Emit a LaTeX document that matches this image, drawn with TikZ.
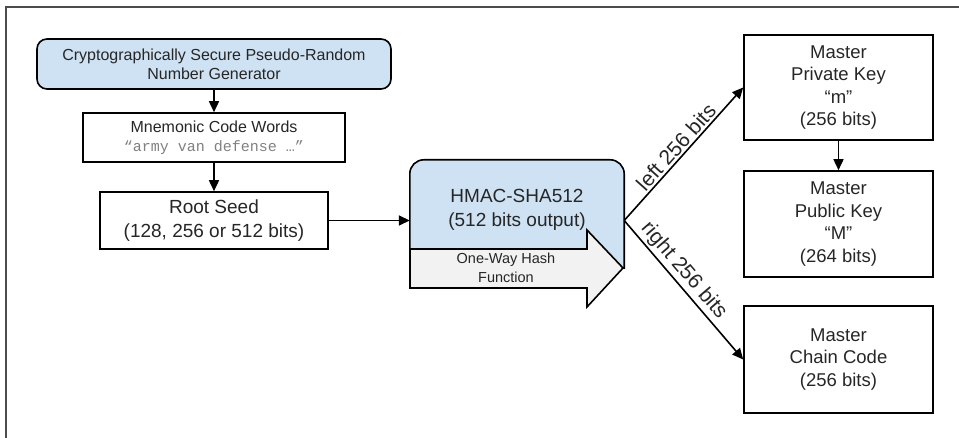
\documentclass[tikz,border=0pt]{standalone}
\usepackage{fontspec}
\setmainfont{Liberation Sans}
\setmonofont{Liberation Mono}
\usetikzlibrary{arrows.meta}

\newcommand\boxfont{\fontsize{16}{19}\selectfont}
\newcommand\bigfont{\fontsize{19}{24}\selectfont}
\newcommand\keyfont{\fontsize{18.5}{22.5}\selectfont}
\newcommand\hashfont{\fontsize{14.5}{19}\selectfont}
\newcommand\bitsfont{\fontsize{21}{24}\selectfont}

\definecolor{hmacblue}{HTML}{CFE2F3}
\definecolor{hashgray}{HTML}{F2F2F2}
\definecolor{inkgray}{HTML}{262626}

\tikzset{
	flowbox/.style={draw, rectangle, line width=1.6pt, align=center, inner sep=0pt, text=inkgray},
	keybox/.style={flowbox, minimum width=189pt, font=\keyfont},
	flow/.style={line width=1.6pt, -{Triangle[length=11pt,width=10pt]}}
}

\begin{document}
\begin{tikzpicture}[x=1pt,y=-1pt]
	\useasboundingbox (0,0) rectangle (959,438);
	\draw [black!70, line width=1.2pt] (6,438) -- (6,7) -- (959,7);

	% left column
	\node [flowbox, fill=hmacblue, rounded corners=10pt, minimum width=354pt, minimum height=50pt, font=\boxfont] (rng) at (214,64) {Cryptographically Secure Pseudo-Random\\Number Generator};
	\node [flowbox, minimum width=262pt, minimum height=49pt, font=\boxfont] (words) at (214,137.5) {Mnemonic Code Words\\{\ttfamily\fontsize{15}{19}\selectfont\color{gray}“army van defense …”}};
	\node [flowbox, minimum width=228pt, minimum height=57pt, font=\bigfont] (seed) at (214,220.5) {Root Seed\\(128, 256 or 512 bits)};
	\draw [flow] (rng) -- (words);
	\draw [flow] (words) -- (seed);

	% hash function
	\node [minimum width=214pt, minimum height=108pt, inner sep=0pt] (hmac) at (517,214) {};
	\draw [line width=1.6pt, fill=hmacblue] (hmac.south west) [rounded corners=14pt] -- (hmac.north west) -- (hmac.north east) [sharp corners] -- (hmac.south east) -- cycle;
	\draw [line width=1.6pt, fill=hashgray] (410,249) -- (587,249) -- (587,230) -- (623,268) -- (587,307) -- (587,288) -- (410,288) -- cycle;
	\node [align=center, font=\bigfont, text=inkgray] (hmactext) at (517,210) {HMAC-SHA512\\(512 bits output)};
	\node [align=center, font=\hashfont, text=inkgray] (hashfn) at (506,268) {One-Way Hash\\Function};
	\draw [flow] (seed.east) -- (seed.east -| hmac.west);
	\coordinate (split) at (hmac.east |- seed.east);

	% right column
	\node [keybox, minimum height=105pt] (priv) at (838.5,87.5) {Master\\Private Key\\“m”\\(256 bits)};
	\node [keybox, minimum height=106pt] (pub) at (838.5,224) {Master\\Public Key\\“M”\\(264 bits)};
	\node [keybox, minimum height=107pt] (chain) at (838.5,359.5) {Master\\Chain Code\\(256 bits)};
	\draw [flow] (priv) -- (pub);
	\draw [flow] (split) -- node [sloped, above, pos=0.5, font=\bitsfont, text=inkgray, inner sep=2pt] {left 256 bits} (priv.west);
	\draw [flow] (split) -- node [sloped, above, pos=0.42, font=\bitsfont, text=inkgray, inner sep=2pt] {right 256 bits} (chain.west);
\end{tikzpicture}
\end{document}
